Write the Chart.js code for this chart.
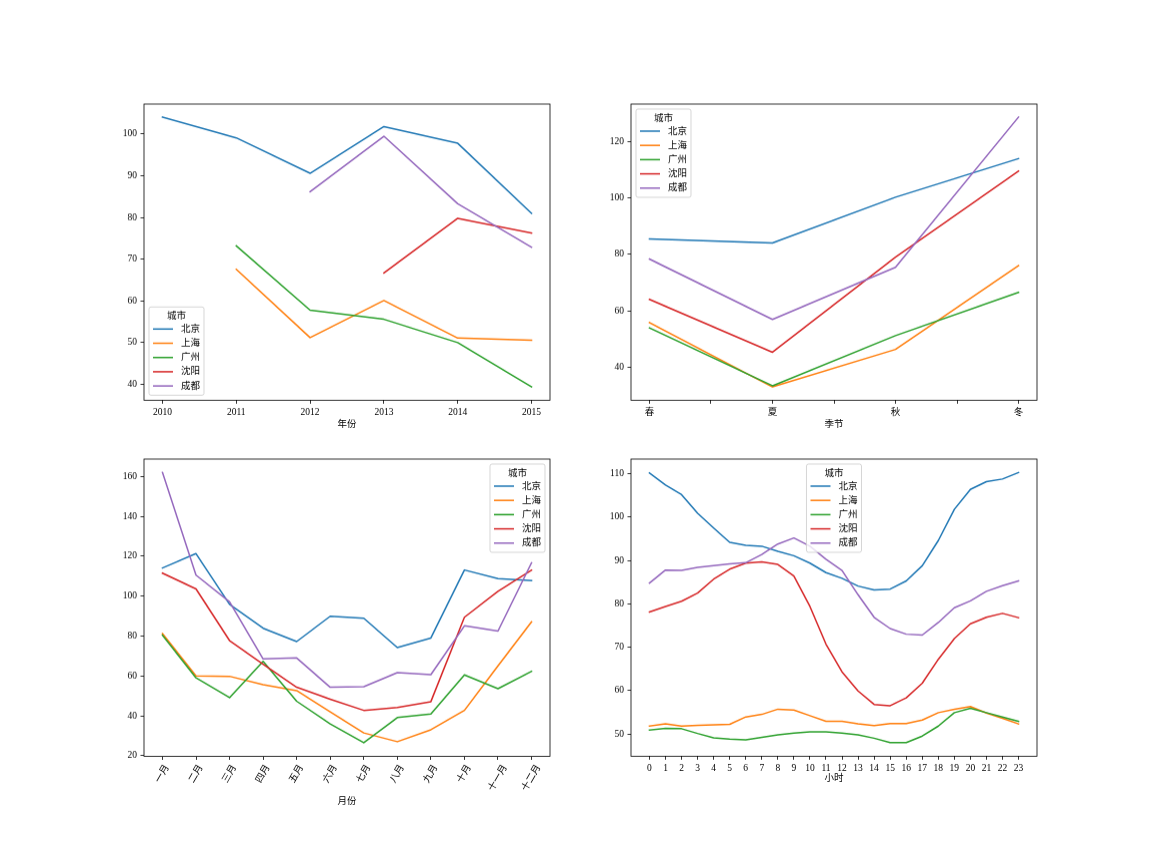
<!DOCTYPE html>
<html><head><meta charset="utf-8">
<script src="https://cdn.jsdelivr.net/npm/chart.js@4.4.0/dist/chart.umd.min.js"></script>
<style>
html,body{margin:0;padding:0;background:#fff;width:1152px;height:864px;overflow:hidden;position:relative}
canvas{position:absolute}
</style></head><body>
<script>
// ---------- data ----------
const cities = ['北京', '上海', '广州', '沈阳', '成都'];
const colors = ['#1f77b4', '#ff7f0e', '#2ca02c', '#d62728', '#9467bd'];
const legendTitle = '城市';

const years = [2010, 2011, 2012, 2013, 2014, 2015];
const yearBJ = [104.1, 99.1, 90.6, 101.8, 97.8, 81.0];
const yearSH = [null, 67.6, 51.2, 60.1, 51.1, 50.6];
const yearGZ = [null, 73.2, 57.8, 55.6, 50.0, 39.4];
const yearSY = [null, null, null, 66.7, 79.8, 76.3];
const yearCD = [null, null, 86.2, 99.5, 83.3, 72.9];
const yearTicks = [40, 50, 60, 70, 80, 90, 100];

const seasons = ['春', '夏', '秋', '冬'];
const seasonBJ = [85.4, 84.0, 100.2, 113.9];
const seasonSH = [55.8, 33.0, 46.3, 76.0];
const seasonGZ = [53.9, 33.4, 51.2, 66.5];
const seasonSY = [64.0, 45.3, 79.0, 109.5];
const seasonCD = [78.3, 56.9, 75.4, 128.6];
const seasonXTicks = [0, 0.5, 1, 1.5, 2, 2.5, 3];
const seasonTicks = [40, 60, 80, 100, 120];

const months = ['一月', '二月', '三月', '四月', '五月', '六月', '七月', '八月', '九月', '十月', '十一月', '十二月'];
const monthBJ = [114.1, 121.3, 95.9, 83.9, 77.2, 89.9, 88.9, 74.2, 79.0, 113.1, 108.8, 107.8];
const monthSH = [81.2, 60.0, 59.8, 55.6, 52.6, 41.9, 31.4, 27.0, 33.0, 42.7, 65.0, 87.1];
const monthGZ = [80.4, 59.0, 49.1, 67.3, 47.3, 35.9, 26.5, 39.1, 40.9, 60.5, 53.6, 62.3];
const monthSY = [111.5, 103.6, 77.7, 65.8, 54.3, 48.3, 42.7, 44.2, 47.1, 89.4, 102.4, 113.0];
const monthCD = [162.0, 110.5, 97.1, 68.5, 69.0, 54.3, 54.6, 61.6, 60.6, 85.1, 82.5, 116.7];
const monthTicks = [20, 40, 60, 80, 100, 120, 140, 160];

const hours = [0,1,2,3,4,5,6,7,8,9,10,11,12,13,14,15,16,17,18,19,20,21,22,23];
const hourBJ = [110.2,107.4,105.2,100.9,97.5,94.2,93.5,93.3,92.1,91.1,89.4,87.2,85.9,84.1,83.2,83.4,85.3,88.8,94.6,101.8,106.4,108.2,108.8,110.3];
const hourSH = [51.8,52.3,51.8,52.0,52.1,52.2,53.9,54.5,55.7,55.5,54.2,52.9,52.9,52.3,51.9,52.4,52.4,53.2,54.9,55.7,56.3,54.8,53.6,52.3];
const hourGZ = [50.9,51.3,51.2,50.1,49.1,48.8,48.6,49.2,49.8,50.2,50.5,50.5,50.2,49.8,49.0,48.0,48.0,49.5,51.8,54.9,55.9,54.9,53.9,52.9];
const hourSY = [78.1,79.4,80.6,82.5,85.7,88.0,89.4,89.7,89.1,86.4,79.4,70.7,64.3,59.9,56.8,56.5,58.3,61.7,67.2,72.0,75.4,76.9,77.8,76.8];
const hourCD = [84.8,87.8,87.7,88.4,88.8,89.2,89.5,91.4,93.8,95.2,93.3,90.3,87.7,82.1,76.9,74.3,73.0,72.8,75.7,79.1,80.7,82.9,84.2,85.3];
const hourTicks = [50, 60, 70, 80, 90, 100, 110];

// ---------- style ----------
const FONT = "'Liberation Serif', 'Noto Sans CJK SC', serif";
const FS = 9.5;
Chart.defaults.font.family = FONT;
Chart.defaults.font.size = FS;
Chart.defaults.color = '#000';

const framePlugin = {
  id: 'frame',
  afterDraw(chart) {
    const {ctx, chartArea: a} = chart;
    ctx.save();
    ctx.strokeStyle = '#000';
    ctx.lineWidth = 0.8;
    ctx.strokeRect(a.left, a.top, a.right - a.left, a.bottom - a.top);
    ctx.restore();
  }
};

const rotLabels = {
  id: 'rotLabels',
  afterDraw(chart, args, opts) {
    if (!opts || !opts.labels) return;
    const {ctx} = chart;
    const sc = chart.scales.x;
    ctx.save();
    ctx.font = FS + 'px ' + FONT;
    ctx.fillStyle = '#000';
    ctx.textAlign = 'center';
    ctx.textBaseline = 'middle';
    const ang = opts.angle * Math.PI / 180;
    opts.labels.forEach((lab, i) => {
      const x = sc.getPixelForValue(i);
      const w = ctx.measureText(lab).width;
      const bh = w * Math.sin(ang) + FS * Math.cos(ang);
      const cy = sc.top + 3.5 + 3.5 + bh / 2;
      ctx.save();
      ctx.translate(x, cy);
      ctx.rotate(-ang);
      ctx.fillText(lab, 0, 0);
      ctx.restore();
    });
    ctx.restore();
  }
};

const mplLegend = {
  id: 'mplLegend',
  afterDatasetsDraw(chart, args, opts) {
    if (!opts || !opts.loc) return;
    const {ctx, chartArea: a} = chart;
    const ds = chart.data.datasets;
    ctx.save();
    ctx.font = FS + 'px ' + FONT;
    let tw = 0;
    ds.forEach(d => { tw = Math.max(tw, ctx.measureText(d.label).width); });
    const W = 32 + tw + 4, H = 88, pad = 5;
    let L, T;
    if (opts.loc === 'lower left') { L = a.left + pad; T = a.bottom - pad - H; }
    else if (opts.loc === 'upper left') { L = a.left + pad; T = a.top + pad; }
    else if (opts.loc === 'upper right') { L = a.right - pad - W; T = a.top + pad; }
    else { L = (a.left + a.right) / 2 - W / 2; T = a.top + pad; }
    const r = 2;
    ctx.beginPath();
    ctx.moveTo(L + r, T);
    ctx.lineTo(L + W - r, T); ctx.quadraticCurveTo(L + W, T, L + W, T + r);
    ctx.lineTo(L + W, T + H - r); ctx.quadraticCurveTo(L + W, T + H, L + W - r, T + H);
    ctx.lineTo(L + r, T + H); ctx.quadraticCurveTo(L, T + H, L, T + H - r);
    ctx.lineTo(L, T + r); ctx.quadraticCurveTo(L, T, L + r, T);
    ctx.closePath();
    ctx.fillStyle = 'rgba(255,255,255,0.8)';
    ctx.fill();
    ctx.strokeStyle = 'rgba(204,204,204,0.8)';
    ctx.lineWidth = 1;
    ctx.stroke();
    ctx.fillStyle = '#000';
    ctx.textAlign = 'center';
    ctx.textBaseline = 'middle';
    ctx.fillText(opts.title, L + W / 2, T + 9.5);
    ctx.textAlign = 'left';
    ds.forEach((d, i) => {
      const y = T + 22 + i * 14.2;
      ctx.beginPath();
      ctx.moveTo(L + 4, y); ctx.lineTo(L + 24, y);
      ctx.strokeStyle = d.borderColor;
      ctx.lineWidth = 1.5;
      ctx.stroke();
      ctx.fillStyle = '#000';
      ctx.fillText(d.label, L + 32, y);
    });
    ctx.restore();
  }
};

function makeSets(xs, series) {
  return series.map((vals, k) => ({
    label: cities[k],
    data: xs.map((x, i) => ({x: x, y: vals[i]})),
    borderColor: colors[k],
    backgroundColor: colors[k],
    borderWidth: 1.5,
    pointRadius: 0,
    tension: 0,
    spanGaps: false,
    fill: false,
    borderJoinStyle: 'round',
    borderCapStyle: 'square',
    order: series.length - k
  }));
}

const Wy = 40, padT = 12, padR = 16, padB = 4;

function makeChart(p) {
  const cv = document.createElement('canvas');
  const W = Wy + p.box.w + padR;
  const H = padT + p.box.h + p.Hx + padB;
  cv.width = W; cv.height = H;
  cv.style.width = W + 'px'; cv.style.height = H + 'px';
  cv.style.left = (p.box.l - Wy) + 'px';
  cv.style.top = (p.box.t - padT) + 'px';
  document.body.appendChild(cv);
  new Chart(cv.getContext('2d'), {
    type: 'line',
    data: {datasets: makeSets(p.xs, p.series)},
    options: {
      responsive: false,
      animation: false,
      devicePixelRatio: 1,
      layout: {padding: {left: 0, top: padT, right: padR, bottom: padB}},
      plugins: {
        legend: {display: false},
        tooltip: {enabled: false},
        mplLegend: {loc: p.loc, title: legendTitle},
        rotLabels: p.rot ? {labels: p.rot, angle: 60} : {}
      },
      scales: {
        x: {
          type: 'linear',
          min: p.xMin, max: p.xMax,
          bounds: 'data',
          border: {display: false},
          grid: {display: true, drawOnChartArea: false, drawTicks: true, tickLength: 3.5, tickColor: '#000', tickWidth: 0.8},
          ticks: {display: !p.rot, padding: 3, maxRotation: 0, minRotation: 0, autoSkip: false, color: '#000',
                  callback: p.xLabel},
          afterBuildTicks: s => { s.ticks = p.xTicks.map(v => ({value: v})); },
          afterFit: s => { s.height = p.Hx; s.paddingLeft = 0; s.paddingRight = 0; },
          title: {display: true, text: p.xTitle, color: '#000', padding: {top: 0, bottom: 0}, font: {size: FS, family: FONT}}
        },
        y: {
          type: 'linear',
          min: p.yMin, max: p.yMax,
          bounds: 'data',
          border: {display: false},
          grid: {display: true, drawOnChartArea: false, drawTicks: true, tickLength: 3.5, tickColor: '#000', tickWidth: 0.8},
          ticks: {padding: 3.5, color: '#000', autoSkip: false, callback: v => String(v)},
          afterBuildTicks: s => { s.ticks = p.yTicks.map(v => ({value: v})); },
          afterFit: s => { s.width = Wy; }
        }
      }
    },
    plugins: [framePlugin, mplLegend, rotLabels]
  });
}

const panels = [
  {box: {l: 144, t: 104, w: 406, h: 296}, Hx: 29.7, xTitle: '年份',
   xs: years, series: [yearBJ, yearSH, yearGZ, yearSY, yearCD],
   xMin: 2009.75, xMax: 2015.25, xTicks: years, xLabel: v => String(v),
   yMin: 36.2, yMax: 107.2, yTicks: yearTicks, loc: 'lower left'},
  {box: {l: 631, t: 104, w: 406, h: 296}, Hx: 29.7, xTitle: '季节',
   xs: seasons.map((s, i) => i), series: [seasonBJ, seasonSH, seasonGZ, seasonSY, seasonCD],
   xMin: -0.15, xMax: 3.15, xTicks: seasonXTicks, xLabel: v => (Number.isInteger(v) ? seasons[v] : ''),
   yMin: 28.3, yMax: 133.2, yTicks: seasonTicks, loc: 'upper left'},
  {box: {l: 144, t: 459, w: 406, h: 297}, Hx: 50.5, xTitle: '月份',
   xs: months.map((m, i) => i), series: [monthBJ, monthSH, monthGZ, monthSY, monthCD],
   xMin: -0.55, xMax: 11.55, xTicks: months.map((m, i) => i), xLabel: v => '',
   yMin: 19.65, yMax: 168.7, yTicks: monthTicks, loc: 'upper right', rot: months},
  {box: {l: 631, t: 459, w: 406, h: 297}, Hx: 27.7, xTitle: '小时',
   xs: hours, series: [hourBJ, hourSH, hourGZ, hourSY, hourCD],
   xMin: -1.15, xMax: 24.15, xTicks: hours, xLabel: v => String(v),
   yMin: 44.85, yMax: 113.4, yTicks: hourTicks, loc: 'upper center'}
];
panels.forEach(makeChart);
</script>
</body></html>
